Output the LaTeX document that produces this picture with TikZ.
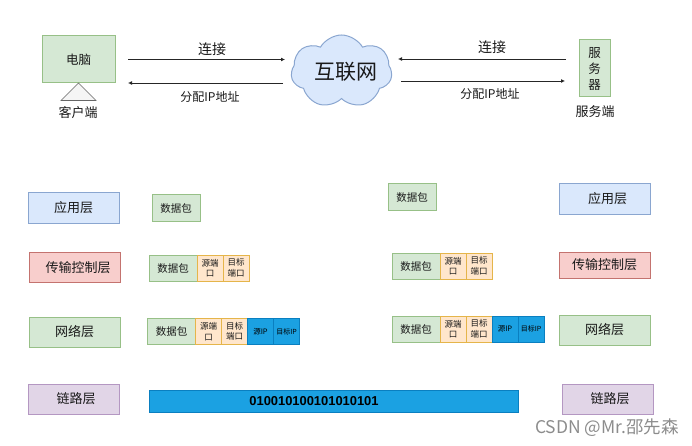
\documentclass[tikz,border=0pt]{standalone}
\usepackage{fontspec}
\setmainfont{Noto Sans CJK SC}
\newfontfamily\bitfont{Liberation Sans}
\usetikzlibrary{arrows.meta,shapes.symbols}
\definecolor{dGreen}{HTML}{D5E8D4}
\definecolor{lGreen}{HTML}{97C087}
\definecolor{dBlue}{HTML}{DAE8FC}
\definecolor{lBlue}{HTML}{8AA6D0}
\definecolor{dRed}{HTML}{F8CECC}
\definecolor{lRed}{HTML}{C4736F}
\definecolor{dPurple}{HTML}{E1D5E7}
\definecolor{lPurple}{HTML}{B497C2}
\definecolor{dOrange}{HTML}{FFE6CC}
\definecolor{lOrange}{HTML}{E5B54A}
\definecolor{dCyan}{HTML}{1BA1E2}
\definecolor{lCyan}{HTML}{0A7FC0}
\begin{document}
\begin{tikzpicture}[x=1pt,y=-1pt,
  box/.style={draw,line width=1pt,inner sep=0pt,outer sep=0pt,align=center,text=black!90},
  layer/.style={box,minimum width=91pt,minimum height=30pt,font=\fontsize{13}{15}\selectfont},
  pkt/.style={box,draw=lGreen,fill=dGreen,minimum width=48pt,minimum height=26pt,font=\fontsize{10.5}{12}\selectfont},
  port/.style={box,draw=lOrange,fill=dOrange,minimum width=26pt,minimum height=26pt,font=\fontsize{8.5}{10.5}\selectfont},
  addr/.style={box,draw=lCyan,fill=dCyan,text=black,minimum width=26pt,minimum height=26pt,font=\fontsize{7.5}{9}\selectfont},
  lbl/.style={inner sep=0pt,text=black!90,font=\fontsize{13}{15}\selectfont},
  link/.style={line width=0.8pt,black!85,-{Latex[length=4pt,width=4pt]}}]
  \useasboundingbox (0,0) rectangle (692,446);
  % top row
  \node[box,draw=lGreen,fill=dGreen,minimum width=73pt,minimum height=47pt,font=\fontsize{12.5}{15}\selectfont] (pc) at (78.5,59.5) {电脑};
  \draw[draw=black!60,fill=black!4,line width=0.6pt] (pc.south) -- (96,100.5) -- (61,100.5) -- cycle;
  \node[lbl] (client) at (78,113) {客户端};
  \node[cloud,cloud puffs=7,cloud puff arc=120,cloud ignores aspect,draw=lBlue,fill=dBlue,line width=1pt,minimum width=101pt,minimum height=73pt,inner sep=0pt,text=black!90,font=\fontsize{21}{24}\selectfont] (net) at (341.5,71.5) {\hspace{8pt}互联网};
  \node[box,draw=lGreen,fill=dGreen,minimum width=31pt,minimum height=57pt,font=\fontsize{12.5}{16}\selectfont] (srv) at (594.5,68.5) {服\\务\\器};
  \node[lbl] (server) at (595,112) {服务端};
  \coordinate (a1) at (128,59.5); \coordinate (a2) at (285,59.5);
  \coordinate (b1) at (283,83);   \coordinate (b2) at (128,83);
  \coordinate (c1) at (566,59);   \coordinate (c2) at (398,59);
  \coordinate (d1) at (401,81);   \coordinate (d2) at (565,81);
  \draw[link] (a1) -- (a2); \node[lbl,font=\fontsize{14}{16}\selectfont] (la) at (212,49) {连接};
  \draw[link] (b1) -- (b2); \node[lbl,font=\fontsize{12}{14}\selectfont] (lb) at (210,97) {分配IP地址};
  \draw[link] (c1) -- (c2); \node[lbl,font=\fontsize{14}{16}\selectfont] (lc) at (492,47) {连接};
  \draw[link] (d1) -- (d2); \node[lbl,font=\fontsize{12}{14}\selectfont] (ld) at (490,94) {分配IP地址};
  % layers
  \node[layer,draw=lBlue,fill=dBlue] (appL) at (73.5,208) {应用层};
  \node[layer,draw=lRed,fill=dRed] (traL) at (74.5,267.5) {\hspace{7pt}传输控制层};
  \node[layer,draw=lGreen,fill=dGreen] (ipL) at (74.5,332) {网络层};
  \node[layer,draw=lPurple,fill=dPurple] (linkL) at (73.5,399) {\hspace{5pt}链路层};
  \node[layer,draw=lBlue,fill=dBlue] (appR) at (604.5,199) {\hspace{6pt}应用层};
  \node[layer,draw=lRed,fill=dRed,minimum height=26pt] (traR) at (604.5,265) {传输控制层};
  \node[layer,draw=lGreen,fill=dGreen] (ipR) at (604.5,330) {网络层};
  \node[layer,draw=lPurple,fill=dPurple] (linkR) at (608,399) {\hspace{4pt}链路层};
  % left packets
  \node[pkt] (p1) at (176,208) {数据包};
  \node[pkt] (p2) at (173,268) {数据包};
  \node[port] (p2s) at (210,268) {源端\\口};
  \node[port] (p2d) at (236,268) {目标\\端口};
  \node[pkt] (p3) at (171.5,331.5) {数据包};
  \node[port] (p3s) at (208.5,331.5) {源端\\口};
  \node[port] (p3d) at (234.5,331.5) {目标\\端口};
  \node[addr] (p3a) at (260.5,331.5) {源IP};
  \node[addr,font=\fontsize{7}{9}\selectfont] (p3b) at (286.5,331.5) {目标IP};
  % right packets
  \node[pkt] (q1) at (412,197) {数据包};
  \node[pkt] (q2) at (416,266) {数据包};
  \node[port] (q2s) at (453,266) {源端\\口};
  \node[port] (q2d) at (479,266) {目标\\端口};
  \node[pkt] (q3) at (416,329) {数据包};
  \node[port] (q3s) at (453,329) {源端\\口};
  \node[port] (q3d) at (479,329) {目标\\端口};
  \node[addr] (q3a) at (505,329) {源IP};
  \node[addr,font=\fontsize{7}{9}\selectfont] (q3b) at (531,329) {目标IP};
  % bits
  \node[box,draw=lCyan,fill=dCyan,text=black,minimum width=369pt,minimum height=22pt,font=\bitfont\bfseries\fontsize{12.9}{15}\selectfont] (bits) at (333.5,401) {\hspace{-39pt}010010100101010101};
  \node[inner sep=0pt,text=black!45,font=\fontsize{17.5}{20}\selectfont] (mark) at (607,428) {CSDN @Mr.邵先森};
\end{tikzpicture}
\end{document}
